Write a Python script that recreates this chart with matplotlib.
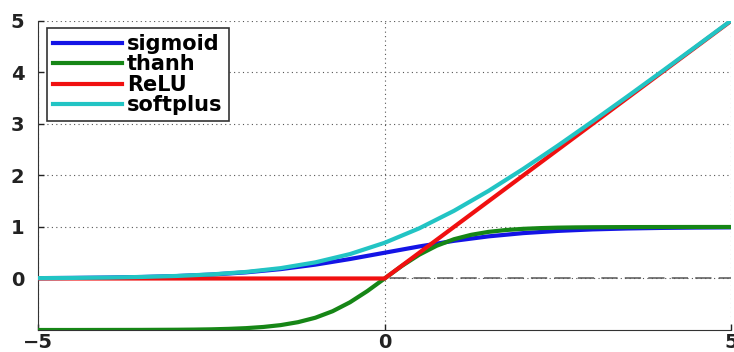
import numpy as np
import matplotlib
matplotlib.use("Agg")
import matplotlib.pyplot as plt

# values
x_sig = [-5, -4.5, -4, -3.5, -3, -2.5, -2, -1.5, -1, -0.5, 0,
         0.5, 1, 1.5, 2, 2.5, 3, 3.5, 4, 4.5, 5]
sigmoid = [0.007, 0.011, 0.018, 0.029, 0.047, 0.076, 0.119, 0.182, 0.269, 0.378, 0.5,
           0.622, 0.731, 0.818, 0.881, 0.924, 0.953, 0.971, 0.982, 0.989, 0.993]

x_tanh = [-5, -4.5, -4, -3.5, -3, -2.75, -2.5, -2.25, -2, -1.75, -1.5, -1.25, -1,
          -0.75, -0.5, -0.25, 0, 0.25, 0.5, 0.75, 1, 1.25, 1.5, 1.75, 2,
          2.25, 2.5, 2.75, 3, 3.5, 4, 4.5, 5]
thanh = [-1.0, -1.0, -0.999, -0.998, -0.995, -0.992, -0.987, -0.978, -0.964, -0.941,
         -0.905, -0.848, -0.762, -0.635, -0.462, -0.245, 0.0, 0.245, 0.462, 0.635,
         0.762, 0.848, 0.905, 0.941, 0.964, 0.978, 0.987, 0.992, 0.995, 0.998,
         0.999, 1.0, 1.0]

x_relu = [-5, 0, 5]
relu = [0, 0, 5]

x_soft = [-5, -4.5, -4, -3.5, -3, -2.5, -2, -1.5, -1, -0.5, 0,
          0.5, 1, 1.5, 2, 2.5, 3, 3.5, 4, 4.5, 5]
softplus = [0.007, 0.011, 0.018, 0.030, 0.049, 0.079, 0.127, 0.201, 0.313, 0.474, 0.693,
            0.974, 1.313, 1.701, 2.127, 2.579, 3.049, 3.530, 4.018, 4.511, 5.007]

xticks = [-5, 0, 5]
yticks = [0, 1, 2, 3, 4, 5]

plt.rcParams['font.family'] = ['DejaVu Sans']

fig = plt.figure(figsize=(7.34, 3.52), dpi=100)
ax = fig.add_axes([0.052, 0.0625, 0.944, 0.878])

ax.axhline(0, color='#707070', lw=1.3, ls=(0, (9, 4)), zorder=1)
ax.plot(x_sig, sigmoid, color='#1414e6', lw=3, label='sigmoid', zorder=3)
ax.plot(x_tanh, thanh, color='#168616', lw=3, label='thanh', zorder=3)
ax.plot(x_relu, relu, color='#f01010', lw=3, label='ReLU', zorder=4)
ax.plot(x_soft, softplus, color='#22c4c4', lw=3, label='softplus', zorder=5)

ax.set_xlim(-5, 5)
ax.set_ylim(-1, 5)
ax.set_xticks(xticks)
ax.set_yticks(yticks)
ax.grid(True, color='#555555', ls=(0, (1, 3)), lw=0.8)
for side in ['top', 'right']:
    ax.spines[side].set_visible(False)
ax.spines['left'].set_color('#333333')
ax.spines['bottom'].set_color('#333333')
ax.tick_params(direction='in', length=4, labelsize=14, width=1, colors='#222222')
ax.tick_params(axis='y', pad=10)
ax.tick_params(axis='x', pad=2)
for lab in ax.get_xticklabels() + ax.get_yticklabels():
    lab.set_fontweight('bold')

leg = ax.legend(loc='upper left', bbox_to_anchor=(0.0125, 0.978),
                prop={'weight': 'bold', 'size': 15}, handlelength=3.3,
                handletextpad=0.25, labelspacing=0.02, borderpad=0.3,
                borderaxespad=0, fancybox=False, framealpha=1, edgecolor='#333333')
leg.get_frame().set_linewidth(1.2)

fig.savefig('out.png', dpi=100)
